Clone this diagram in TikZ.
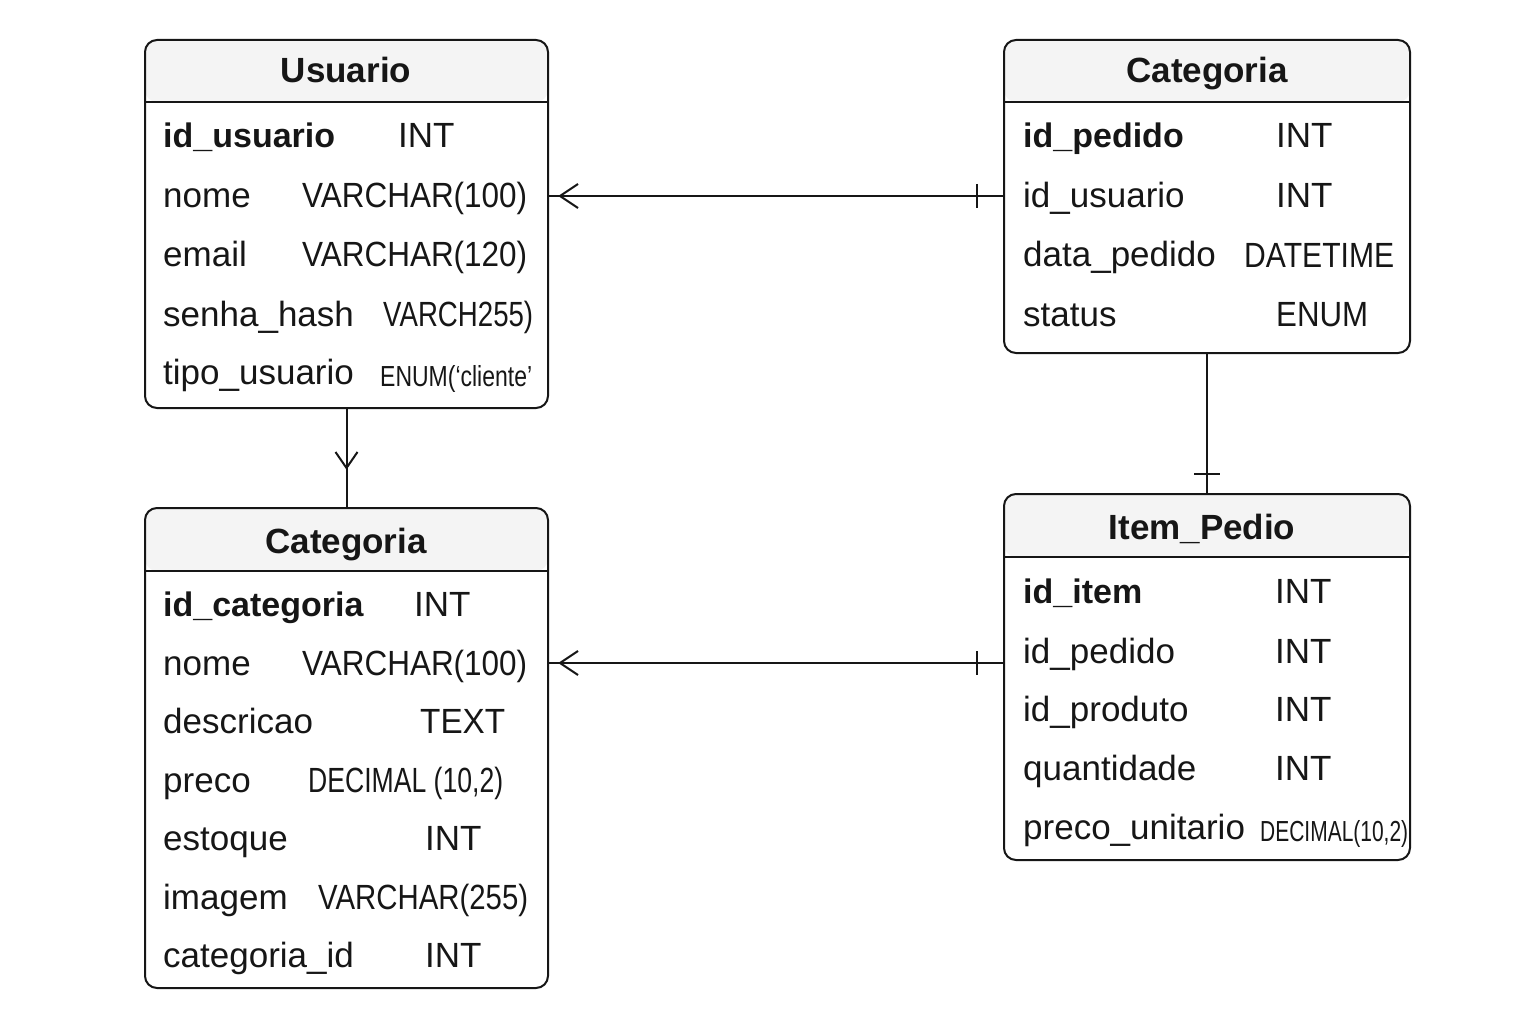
\documentclass[tikz,border=0pt]{standalone}
\usepackage{fontspec}
\setmainfont{Liberation Sans}
\usetikzlibrary{calc}
\definecolor{hdr}{HTML}{F4F4F4}
\definecolor{ink}{HTML}{161616}
\newcommand{\tw}[2]{\resizebox{#1pt}{\height}{#2}}
\begin{document}
\begin{tikzpicture}[x=1pt,y=-1pt,
  tbl/.style={draw=ink, line width=2pt, rounded corners=12pt, inner sep=0pt, outer sep=0pt, anchor=north west,
    path picture={
      \fill[hdr] (path picture bounding box.north west) rectangle ([yshift=-#1pt]path picture bounding box.north east);
      \draw[ink, line width=2pt] ([yshift=-#1pt]path picture bounding box.north west) -- ([yshift=-#1pt]path picture bounding box.north east);
    }},
  ttl/.style={font=\fontsize{35}{40}\selectfont\bfseries, anchor=base, inner sep=0pt, text=ink},
  fld/.style={font=\fontsize{35}{40}\selectfont, anchor=west, inner sep=0pt, text height=30pt, text depth=6pt, text=ink},
  key/.style={fld, font=\fontsize{34}{40}\selectfont\bfseries},
  small/.style={fld, font=\fontsize{29}{34}\selectfont},
  conn/.style={draw=ink, line width=2pt},
]
\useasboundingbox (0,0) rectangle (1536,1024);

% ---------- Usuario ----------
\node[tbl=62, minimum width=403pt, minimum height=368pt] (u) at (145,40) {};
\node[ttl] (ut) at (346,83) {Usuario};
\node[key] (u1) at (163,136) {id\_usuario};
\node[fld] (u1t) at (398,136) {INT};
\node[fld] (u2) at (163,196) {nome};
\node[fld] (u2t) at (302,196) {\tw{225}{VARCHAR(100)}};
\node[fld] (u3) at (163,255) {email};
\node[fld] (u3t) at (302,255) {\tw{225}{VARCHAR(120)}};
\node[fld] (u4) at (163,314) {senha\_hash};
\node[fld] (u4t) at (383,314) {\tw{150}{VARCH255)}};
\node[fld] (u5) at (163,372) {tipo\_usuario};
\node[small] (u5t) at (380,374) {\tw{152}{ENUM(‘cliente’}};

% ---------- Categoria (top right) ----------
\node[tbl=62, minimum width=406pt, minimum height=313pt] (c1) at (1004,40) {};
\node[ttl] (c1t) at (1207,83) {Categoria};
\node[key] (c11) at (1023,136) {id\_pedido};
\node[fld] (c11t) at (1276,136) {INT};
\node[fld] (c12) at (1023,196) {id\_usuario};
\node[fld] (c12t) at (1276,196) {INT};
\node[fld] (c13) at (1023,255) {data\_pedido};
\node[fld] (c13t) at (1244,255) {\tw{150}{DATETIME}};
\node[fld] (c14) at (1023,314) {status};
\node[fld] (c14t) at (1276,314) {\tw{92}{ENUM}};

% ---------- Categoria (bottom left) ----------
\node[tbl=63, minimum width=403pt, minimum height=480pt] (c2) at (145,508) {};
\node[ttl] (c2t) at (346,553) {Categoria};
\node[key] (c21) at (163,604) {id\_categoria};
\node[fld] (c21t) at (414,604) {INT};
\node[fld] (c22) at (163,663) {nome};
\node[fld] (c22t) at (302,663) {\tw{225}{VARCHAR(100)}};
\node[fld] (c23) at (163,721) {descricao};
\node[fld] (c23t) at (420,721) {\tw{85}{TEXT}};
\node[fld] (c24) at (163,780) {preco};
\node[fld] (c24t) at (308,780) {\tw{195}{DECIMAL (10,2)}};
\node[fld] (c25) at (163,838) {estoque};
\node[fld] (c25t) at (425,838) {INT};
\node[fld] (c26) at (163,897) {imagem};
\node[fld] (c26t) at (318,897) {\tw{210}{VARCHAR(255)}};
\node[fld] (c27) at (163,955) {categoria\_id};
\node[fld] (c27t) at (425,955) {INT};

% ---------- Item_Pedio ----------
\node[tbl=63, minimum width=406pt, minimum height=366pt] (ip) at (1004,494) {};
\node[ttl] (ipt) at (1202,539) {Item\_Pedio};
\node[key] (ip1) at (1023,591) {id\_item};
\node[fld] (ip1t) at (1275,591) {INT};
\node[fld] (ip2) at (1023,651) {id\_pedido};
\node[fld] (ip2t) at (1275,651) {INT};
\node[fld] (ip3) at (1023,709) {id\_produto};
\node[fld] (ip3t) at (1275,709) {INT};
\node[fld] (ip4) at (1023,768) {quantidade};
\node[fld] (ip4t) at (1275,768) {INT};
\node[fld] (ip5) at (1023,827) {preco\_unitario};
\node[small] (ip5t) at (1260,829) {\tw{148}{DECIMAL(10,2)}};

% ---------- connectors ----------
% Usuario -- Categoria (top right)
\draw[conn] (u.east |- c12) -- (c1.west |- c12);
\draw[conn] ($(u.east |- c12)+(30,-12)$) -- ++(-18,12) -- ++(18,12);
\draw[conn] ($(c1.west |- c12)+(-27,-12)$) -- ++(0,24);

% Usuario -- Categoria (bottom left)
\draw[conn] (u.south) -- (c2.north);
\draw[conn] ($(u.south)+(-11,44)$) -- ++(11,16) -- ++(11,-16);

% Categoria (top right) -- Item_Pedio
\draw[conn] (c1.south) -- (ip.north);
\draw[conn] ($(ip.north)+(-13,-20)$) -- ++(26,0);

% Categoria (bottom left) -- Item_Pedio
\draw[conn] (c2.east |- c22) -- (ip.west |- c22);
\draw[conn] ($(c2.east |- c22)+(30,-12)$) -- ++(-18,12) -- ++(18,12);
\draw[conn] ($(ip.west |- c22)+(-27,-12)$) -- ++(0,24);
\end{tikzpicture}
\end{document}
